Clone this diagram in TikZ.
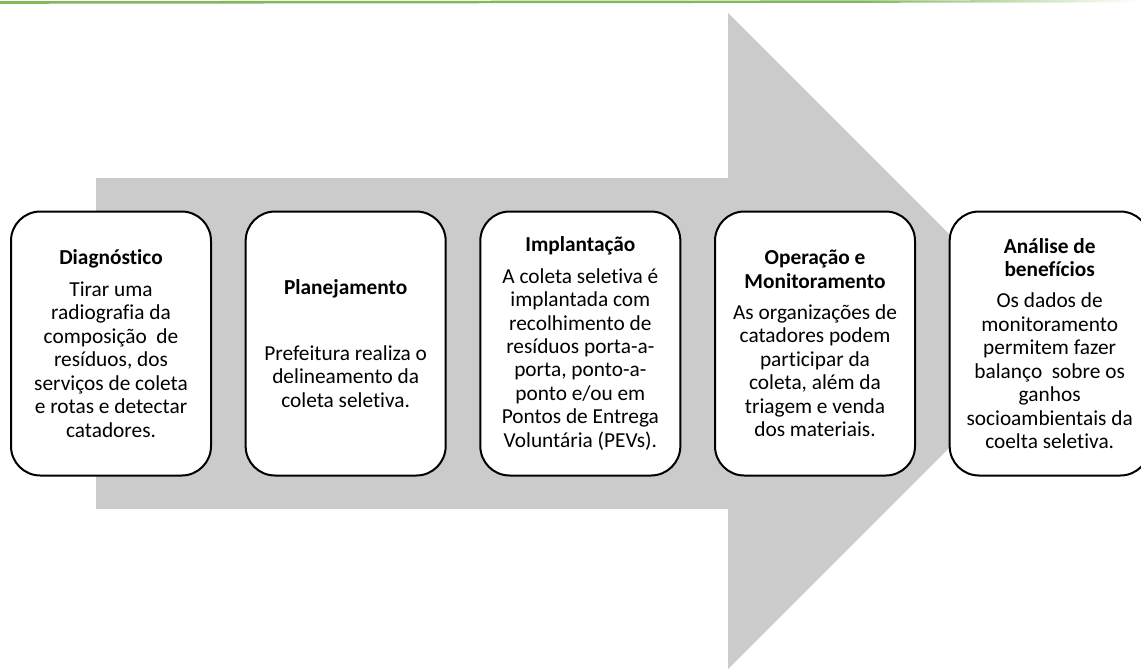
\documentclass[tikz,border=0pt]{standalone}
\usepackage{fontspec}
\setmainfont{Carlito}[Ligatures=NoCommon]
\usepackage{tikz}
\usetikzlibrary{positioning}
\definecolor{setacinza}{RGB}{203,203,203}
\definecolor{verdelinha}{RGB}{128,184,90}

\tikzset{
  etapa/.style={draw=black, line width=1.5pt, fill=white, rounded corners=22pt,
    minimum width=150pt, minimum height=198pt, align=center, inner sep=3pt,
    font=\fontsize{16}{17.6}\selectfont},
}

\begin{document}
\begin{tikzpicture}[x=0.75pt, y=-0.75pt]
    \useasboundingbox (0,0) rectangle (1141,669);
    % linha verde no topo
    \fill[verdelinha] (0,1.2) -- (860,0.4) -- (860,2.8) -- (0,3.8) -- cycle;
    \shade[left color=verdelinha, right color=white]
      (860,0.4) -- (1141,0) -- (1141,2.4) -- (860,2.8) -- cycle;
    % seta grande
    \fill[setacinza] (96,178) -- (728,178) -- (728,13) -- (1056,341)
      -- (728,669) -- (728,509) -- (96,509) -- cycle;
    % etapas
    \node[etapa] (diag) at (111,343.5)
      {\textbf{Diagnóstico}\\[6pt]
       Tirar uma\\ radiografia da\\ composição\ \ de\\ resíduos, dos\\
       serviços de coleta\\ e rotas e detectar\\ catadores.};
    \node[etapa, right=24.5pt of diag] (plan)
      {\textbf{Planejamento}\\[32pt]
       Prefeitura realiza o\\ delineamento da\\ coleta seletiva.};
    \node[etapa, right=24.5pt of plan] (impl)
      {\textbf{Implantação}\\[6pt]
       A coleta seletiva é\\ implantada com\\ recolhimento de\\
       resíduos porta-a-\\ porta, ponto-a-\\ ponto e/ou em\\
       Pontos de Entrega\\ Voluntária (PEVs).};
    \node[etapa, right=24.5pt of impl] (oper)
      {\textbf{Operação e}\\ \textbf{Monitoramento}\\[6pt]
       As organizações de\\ catadores podem\\ participar da\\
       coleta, além da\\ triagem e venda\\ dos materiais.};
    \node[etapa, right=24.5pt of oper] (anal)
      {\textbf{Análise de}\\ \textbf{benefícios}\\[6pt]
       Os dados de\\ monitoramento\\ permitem fazer\\
       balanço\ \ sobre os\\ ganhos\\ socioambientais da\\
       coelta seletiva.};
\end{tikzpicture}
\end{document}
